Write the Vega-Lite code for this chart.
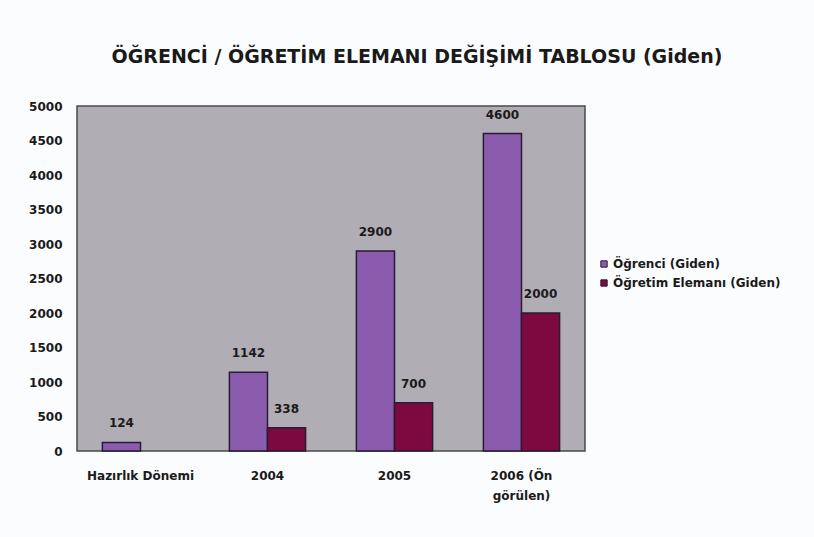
{
  "$schema": "https://vega.github.io/schema/vega-lite/v6.json",
  "width": 508,
  "height": 345,
  "autosize": {"type": "none"},
  "padding": {"left": 77, "top": 106, "right": 229, "bottom": 86},
  "background": "#fbfcfe",
  "title": {
    "text": "ÖĞRENCİ / ÖĞRETİM ELEMANI DEĞİŞİMİ TABLOSU (Giden)",
    "anchor": "middle",
    "dx": 86,
    "offset": 33,
    "font": "DejaVu Sans",
    "fontSize": 19,
    "fontWeight": "bold",
    "color": "#1a1a1a"
  },
  "data": {
    "values": [
      {"donem": "Hazırlık Dönemi", "seri": "Öğrenci  (Giden)", "deger": 124},
      {"donem": "2004", "seri": "Öğrenci  (Giden)", "deger": 1142},
      {"donem": "2004", "seri": "Öğretim Elemanı (Giden)", "deger": 338},
      {"donem": "2005", "seri": "Öğrenci  (Giden)", "deger": 2900},
      {"donem": "2005", "seri": "Öğretim Elemanı (Giden)", "deger": 700},
      {"donem": "2006 (Ön görülen)", "seri": "Öğrenci  (Giden)", "deger": 4600},
      {"donem": "2006 (Ön görülen)", "seri": "Öğretim Elemanı (Giden)", "deger": 2000}
    ]
  },
  "encoding": {
    "x": {
      "field": "donem",
      "type": "nominal",
      "sort": ["Hazırlık Dönemi", "2004", "2005", "2006 (Ön görülen)"],
      "scale": {"paddingInner": 0.4, "paddingOuter": 0.2},
      "axis": {
        "title": null,
        "labelAngle": 0,
        "ticks": false,
        "domain": false,
        "labelPadding": 19,
        "labelFont": "DejaVu Sans",
        "labelFontSize": 12,
        "labelFontWeight": "bold",
        "labelColor": "#1a1a1a",
        "labelLineHeight": 20,
        "labelLimit": 0,
        "labelExpr": "datum.value == '2006 (Ön görülen)' ? ['2006 (Ön', 'görülen)'] : datum.value"
      }
    },
    "xOffset": {
      "field": "seri",
      "type": "nominal",
      "sort": ["Öğrenci  (Giden)", "Öğretim Elemanı (Giden)"],
      "scale": {"paddingInner": 0, "paddingOuter": 0}
    },
    "y": {
      "field": "deger",
      "type": "quantitative",
      "scale": {"domain": [0, 5000]},
      "axis": {
        "title": null,
        "values": [0, 500, 1000, 1500, 2000, 2500, 3000, 3500, 4000, 4500, 5000],
        "format": "d",
        "grid": false,
        "ticks": false,
        "domain": false,
        "labelPadding": 15,
        "labelFont": "DejaVu Sans",
        "labelFontSize": 12,
        "labelFontWeight": "bold",
        "labelColor": "#1a1a1a"
      }
    }
  },
  "layer": [
    {
      "mark": {"type": "bar", "stroke": "#2a1a35", "strokeWidth": 1.5},
      "encoding": {
        "color": {
          "field": "seri",
          "type": "nominal",
          "sort": ["Öğrenci  (Giden)", "Öğretim Elemanı (Giden)"],
          "scale": {"domain": ["Öğrenci  (Giden)", "Öğretim Elemanı (Giden)"], "range": ["#8b5cad", "#7c0a3e"]},
          "legend": {
            "title": null,
            "orient": "none",
            "legendX": 521,
            "legendY": 152,
            "symbolType": "square",
            "symbolSize": 40,
            "symbolStrokeColor": "#2a1a35",
            "symbolStrokeWidth": 1,
            "labelFont": "DejaVu Sans",
            "labelFontSize": 12,
            "labelFontWeight": "bold",
            "labelColor": "#1a1a1a",
            "labelOffset": 3,
            "labelLimit": 0,
            "rowPadding": 7
          }
        }
      }
    },
    {
      "mark": {"type": "text", "dy": -19, "font": "DejaVu Sans", "fontSize": 12, "fontWeight": "bold", "color": "#1a1a1a"},
      "encoding": {"text": {"field": "deger", "type": "quantitative"}}
    }
  ],
  "config": {
    "view": {"fill": "#b1adb4", "stroke": "#4a4a4a", "strokeWidth": 1.5}
  }
}
